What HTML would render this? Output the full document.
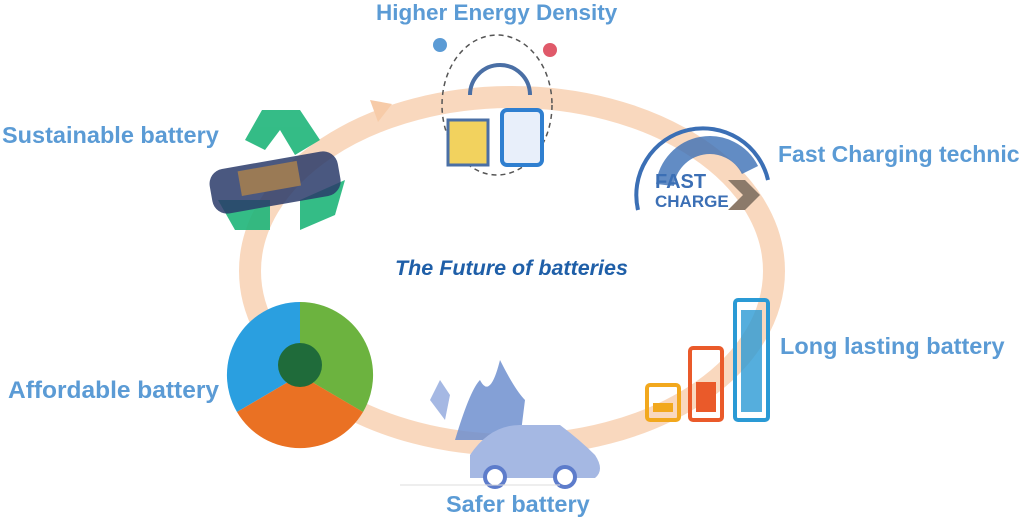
<!DOCTYPE html>
<html><head><meta charset="utf-8"><style>
html,body{margin:0;padding:0;background:#fff}
body{width:1024px;height:524px;position:relative;overflow:hidden;font-family:"Liberation Sans",sans-serif}
.l{position:absolute;color:#5b9bd5;font-weight:bold;font-size:23.5px;white-space:nowrap}
</style></head><body>
<svg width="1024" height="524" style="position:absolute;left:0;top:0">
<ellipse cx="512" cy="271" rx="262" ry="174" fill="none" stroke="#f7cba8" stroke-opacity="0.75" stroke-width="22"/>
<polygon points="370,100 392,104 378,122" fill="#f7cba8"/>
<g fill="#1fb57a" opacity="0.9">
<polygon points="262,110 300,110 320,140 295,155 280,130 265,150 245,140"/>
<polygon points="218,200 270,200 270,230 235,230"/>
<polygon points="300,200 345,180 335,215 300,230"/>
</g>
<rect x="210" y="160" width="130" height="45" rx="15" fill="#2a3b6a" opacity="0.85" transform="rotate(-10 275 182)"/>
<rect x="240" y="165" width="60" height="25" fill="#9a7a55" transform="rotate(-10 275 182)"/>
<ellipse cx="497" cy="105" rx="55" ry="70" fill="none" stroke="#555" stroke-dasharray="5 4" stroke-width="1.5"/>
<path d="M470 95 A30 30 0 0 1 530 95" fill="none" stroke="#4a6fa5" stroke-width="4"/>
<rect x="448" y="120" width="40" height="45" fill="#f2d25e" stroke="#4a6fa5" stroke-width="3"/>
<rect x="502" y="110" width="40" height="55" rx="5" fill="#e8effa" stroke="#2f7fd0" stroke-width="4"/>
<circle cx="440" cy="45" r="7" fill="#5b9bd5"/><circle cx="550" cy="50" r="7" fill="#e05a6a"/>
<path d="M638 210 A65 65 0 0 1 768 180" fill="none" stroke="#3b6fb5" stroke-width="4"/>
<path d="M665 185 A45 45 0 0 1 750 170" fill="none" stroke="#3b6fb5" stroke-width="18" opacity="0.8"/>
<text x="655" y="188" font-family="Liberation Sans" font-weight="bold" font-size="20" fill="#3b6fb5">FAST</text>
<text x="655" y="207" font-family="Liberation Sans" font-weight="bold" font-size="17" fill="#3b6fb5">CHARGE</text>
<polygon points="728,180 745,180 760,195 745,210 728,210 743,195" fill="#8c7a6a"/>
<rect x="647" y="385" width="32" height="35" rx="3" fill="none" stroke="#f2a81d" stroke-width="4"/>
<rect x="653" y="403" width="20" height="9" fill="#f2a81d"/>
<rect x="690" y="348" width="32" height="72" rx="3" fill="none" stroke="#ea5a2a" stroke-width="4"/>
<rect x="696" y="382" width="20" height="30" fill="#ea5a2a"/>
<rect x="735" y="300" width="33" height="120" rx="3" fill="none" stroke="#2a9ad5" stroke-width="4"/>
<rect x="741" y="310" width="21" height="102" fill="#2a9ad5" opacity="0.8"/>
<path d="M300 375 L300 302 A73 73 0 0 0 237 412 Z" fill="#2a9fe0"/>
<path d="M300 375 L300 302 A73 73 0 0 1 363 412 Z" fill="#6cb33f"/>
<path d="M300 375 L237 412 A73 73 0 0 0 363 412 Z" fill="#ea7123"/>
<circle cx="300" cy="365" r="22" fill="#1f6b3a"/>
<path d="M455 440 Q470 390 480 380 Q490 400 500 360 Q515 390 525 400 L520 440 Z" fill="#6f8fcf" opacity="0.85"/>
<path d="M470 455 Q490 425 520 425 L560 425 Q580 440 595 455 Q605 470 595 478 L470 478 Z" fill="#a5b8e3"/>
<circle cx="495" cy="477" r="10" fill="#fff" stroke="#5d7ccb" stroke-width="4"/>
<circle cx="565" cy="477" r="10" fill="#fff" stroke="#5d7ccb" stroke-width="4"/>
<line x1="400" y1="485" x2="560" y2="485" stroke="#ddd" stroke-width="1"/>
<path d="M430 400 L440 380 L450 395 L445 420" fill="#a5b8e3"/>
</svg>
<div class="l" style="left:376px;top:0px;font-size:22.5px">Higher Energy Density</div>
<div class="l" style="left:2px;top:122px">Sustainable battery</div>
<div class="l" style="left:778px;top:141px;font-size:23px">Fast Charging technic</div>
<div class="l" style="left:395px;top:256px;color:#1f5fa8;font-style:italic;font-size:21.5px">The Future of batteries</div>
<div class="l" style="left:780px;top:333px">Long lasting battery</div>
<div class="l" style="left:8px;top:377px;font-size:24.5px">Affordable battery</div>
<div class="l" style="left:446px;top:491px">Safer battery</div>
</body></html>
